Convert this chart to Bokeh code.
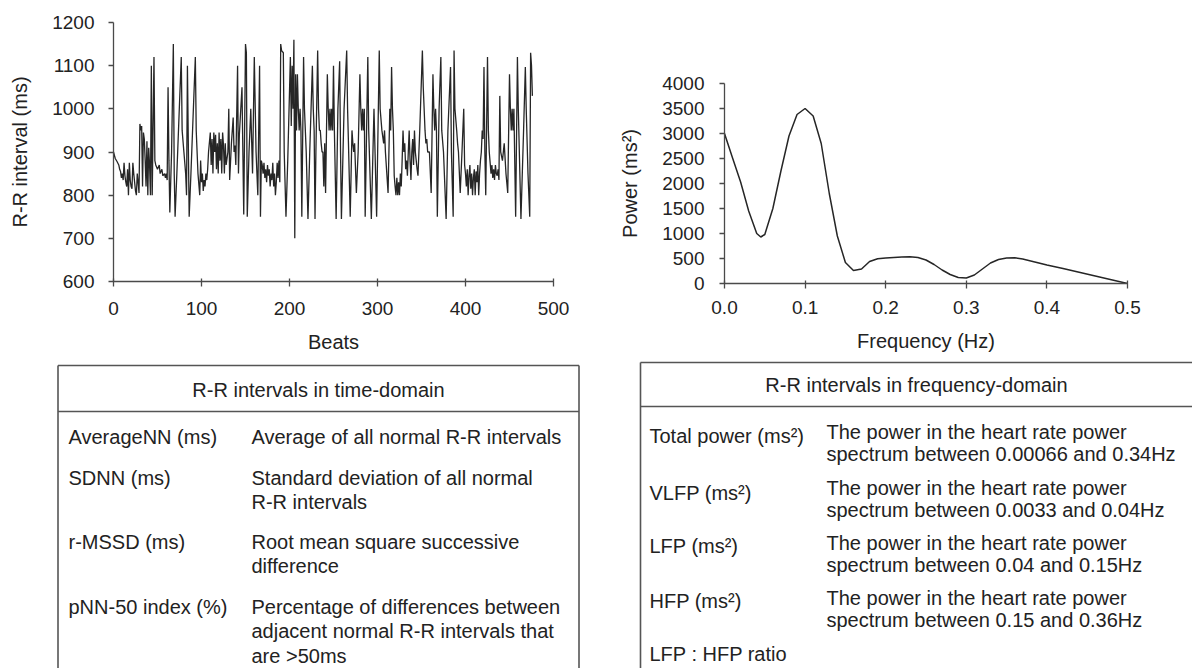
from bokeh.plotting import figure
from bokeh.layouts import row, column
from bokeh.models import Range1d, FixedTicker, NumeralTickFormatter, Spacer
from bokeh.core.properties import value
from bokeh.embed import file_html
from bokeh.resources import INLINE

FONT = "Liberation Sans"
TXT = "#222222"
AXC = "#4a4a4a"

# ---------------- data: R-R interval series (beat index, ms) ----------------
beats_a = [0, 2, 4, 6, 7, 8, 9, 10, 11, 12, 13, 14, 15, 16, 17, 18, 19, 20, 21, 22, 23, 24, 25, 26, 27, 28, 29]
rr_a = [900, 885, 878, 870, 860, 855, 840, 850, 835, 875, 845, 830, 820, 860, 800, 875, 835, 820, 815, 875, 850, 830, 810, 800, 850, 830, 805]
beats_b = [30, 31, 32, 33, 34, 35, 36, 37, 38, 39, 40, 41, 42, 43, 44, 46, 47, 48, 50, 52, 53, 55, 56, 58, 59, 60, 61]
rr_b = [965, 950, 960, 820, 945, 930, 880, 820, 925, 800, 910, 870, 800, 1100, 800, 1120, 880, 870, 860, 870, 850, 860, 845, 850, 840, 850, 835]
beats_c = [62, 63, 64, 66, 68, 69, 70, 72, 77, 78, 80, 82, 83, 84, 86, 88, 93, 94, 96, 98, 99, 100, 101, 102, 103, 104, 105, 106, 107]
rr_c = [1050, 880, 760, 900, 1150, 850, 750, 850, 1120, 950, 900, 850, 800, 1100, 750, 850, 1120, 950, 850, 800, 880, 830, 850, 810, 835, 820, 850, 835, 860]
beats_d = [108, 110, 111, 112, 113, 114, 115, 116, 117, 118, 119, 120, 121, 122, 123, 124, 125, 126, 127, 128, 130, 131, 132, 134, 136, 137, 138, 139, 141, 142, 143, 146, 147, 148, 150, 151, 152, 154, 156, 158, 160, 162, 164, 166, 167, 168]
rr_d = [900, 945, 870, 930, 850, 945, 900, 940, 860, 920, 850, 945, 880, 930, 850, 945, 915, 850, 920, 870, 900, 1000, 835, 920, 980, 900, 915, 870, 1100, 850, 940, 1050, 900, 755, 1150, 1130, 750, 900, 1000, 850, 1120, 900, 800, 1100, 750, 880]
beats_e = [169, 170, 171, 172, 173, 174, 175, 176, 177, 178, 179, 180, 181, 182, 183, 184, 185, 186, 187, 188, 189]
rr_e = [870, 850, 875, 840, 860, 830, 870, 845, 860, 820, 850, 835, 875, 820, 850, 800, 830, 875, 840, 880, 830]
beats_f = [190, 191, 193, 194, 196, 198, 201, 202, 203, 204, 205, 206, 207, 208, 209, 210, 211, 212, 213, 214, 216, 217, 218, 219, 221, 223, 226, 227, 228, 229, 230, 232, 233, 234, 235, 236, 237, 238, 239, 240, 241]
rr_f = [1150, 1135, 1130, 900, 750, 880, 1120, 960, 1100, 1000, 1160, 700, 1080, 950, 1080, 1000, 950, 1000, 950, 750, 1120, 1000, 950, 900, 745, 900, 1100, 1000, 950, 745, 900, 1135, 1000, 950, 950, 920, 900, 900, 820, 920, 805]
beats_g = [243, 244, 245, 246, 247, 248, 249, 250, 251, 253, 255, 257, 258, 259, 262, 265, 266, 267, 269, 271, 272, 273, 274, 276, 278, 280, 281, 282, 283, 284, 285, 286, 288, 289, 290, 293, 296, 299, 302, 303, 305, 307, 308, 309, 312]
rr_g = [1080, 1000, 950, 1000, 950, 1000, 950, 1100, 950, 745, 1000, 1110, 900, 745, 1000, 1135, 1000, 920, 750, 950, 920, 900, 920, 805, 900, 1080, 1000, 950, 1000, 950, 1000, 750, 1000, 1120, 950, 745, 1000, 750, 1135, 1000, 950, 920, 950, 900, 805]
beats_h = [314, 315, 316, 317, 318, 319, 320, 321, 322, 323, 324, 325, 326, 327, 328, 329, 330, 331, 332, 333, 334, 335, 336, 337, 338, 339, 340, 341, 342, 343, 344, 345, 346, 348, 351, 352, 354, 355, 356, 357, 359, 361]
rr_h = [1000, 950, 1097, 1000, 950, 845, 820, 800, 840, 800, 830, 800, 850, 820, 880, 950, 900, 920, 860, 880, 845, 900, 950, 880, 835, 900, 930, 870, 950, 900, 880, 860, 845, 950, 1135, 1050, 950, 920, 930, 900, 900, 805]
beats_i = [363, 364, 365, 366, 367, 368, 370, 372, 373, 375, 378, 380, 383, 384, 386, 387, 388, 390, 391, 392, 394, 396, 398, 399]
rr_i = [1080, 1000, 950, 1000, 950, 750, 1000, 1120, 950, 900, 745, 950, 1097, 900, 750, 1135, 1000, 950, 920, 900, 805, 900, 1000, 870]
beats_j = [400, 401, 402, 403, 404, 405, 406, 407, 408, 409, 410, 411, 412, 413, 414, 415, 416, 417, 418, 419, 420]
rr_j = [850, 820, 860, 800, 845, 870, 815, 850, 800, 840, 860, 800, 855, 830, 870, 800, 850, 880, 900, 950, 930]
beats_k = [421, 422, 423, 425, 426, 427, 428, 429, 430, 431, 432, 433, 434, 435, 436, 437, 438, 439, 440, 442, 444, 446, 448, 450, 451, 452, 453, 454, 455, 457, 459, 460, 463, 466, 468, 469, 471, 473, 474, 475, 476]
rr_k = [1097, 900, 800, 1120, 950, 900, 875, 850, 870, 840, 860, 835, 870, 850, 845, 860, 835, 1030, 900, 880, 920, 850, 805, 1080, 1000, 950, 1000, 950, 1000, 750, 1120, 1000, 745, 950, 1097, 1000, 850, 750, 1130, 1100, 1030]

beats = beats_a + beats_b + beats_c + beats_d + beats_e + beats_f + beats_g + beats_h + beats_i + beats_j + beats_k
rr_ms = rr_a + rr_b + rr_c + rr_d + rr_e + rr_f + rr_g + rr_h + rr_i + rr_j + rr_k

rr_x_ticks = [0, 100, 200, 300, 400, 500]
rr_y_ticks = [600, 700, 800, 900, 1000, 1100, 1200]

# ---------------- data: power spectrum ----------------
freq_hz = [0.00, 0.01, 0.02, 0.03, 0.04, 0.045, 0.05, 0.06, 0.07, 0.08, 0.09, 0.10,
           0.11, 0.12, 0.13, 0.14, 0.15, 0.16, 0.17, 0.18, 0.19, 0.20, 0.21, 0.22,
           0.23, 0.24, 0.25, 0.26, 0.27, 0.28, 0.29, 0.30, 0.31, 0.32, 0.33, 0.34,
           0.35, 0.36, 0.37, 0.38, 0.39, 0.40, 0.42, 0.44, 0.46, 0.48, 0.50]
power_ms2 = [3000, 2510, 2030, 1450, 1000, 930, 980, 1500, 2250, 2950, 3380, 3500,
             3350, 2800, 1800, 950, 420, 260, 290, 440, 495, 510, 520, 530,
             535, 520, 470, 380, 270, 180, 120, 110, 170, 290, 410, 480,
             510, 515, 490, 450, 410, 370, 300, 225, 150, 75, 0]
ps_x_ticks = [0.0, 0.1, 0.2, 0.3, 0.4, 0.5]
ps_y_ticks = [0, 500, 1000, 1500, 2000, 2500, 3000, 3500, 4000]

# ---------------- table texts ----------------
time_title = "R-R intervals in time-domain"
time_terms = ["AverageNN (ms)", "SDNN (ms)", "r-MSSD (ms)", "pNN-50 index (%)"]
time_desc = [["Average of all normal R-R intervals"],
             ["Standard deviation of all normal", "R-R intervals"],
             ["Root mean square successive", "difference"],
             ["Percentage of differences between", "adjacent normal R-R intervals that", "are >50ms"]]
freq_title = "R-R intervals in frequency-domain"
freq_terms = ["Total power (ms\u00b2)", "VLFP (ms\u00b2)", "LFP (ms\u00b2)", "HFP (ms\u00b2)", "LFP : HFP ratio"]
freq_desc = [["The power in the heart rate power", "spectrum between 0.00066 and 0.34Hz"],
             ["The power in the heart rate power", "spectrum between 0.0033 and 0.04Hz"],
             ["The power in the heart rate power", "spectrum between 0.04 and 0.15Hz"],
             ["The power in the heart rate power", "spectrum between 0.15 and 0.36Hz"],
             []]


def style(p, xlab, ylab, xticks, yticks, xfmt=None, ylab_standoff=20, ytick_standoff=14,
          xtick_standoff=10, xlab_standoff=10):
    p.xgrid.visible = False
    p.ygrid.visible = False
    p.outline_line_color = None
    p.background_fill_color = "white"
    p.border_fill_color = "white"
    p.xaxis.ticker = FixedTicker(ticks=xticks)
    p.yaxis.ticker = FixedTicker(ticks=yticks)
    if xfmt:
        p.xaxis.formatter = NumeralTickFormatter(format=xfmt)
    p.xaxis.axis_label = xlab
    p.yaxis.axis_label = ylab
    for ax in (p.xaxis[0], p.yaxis[0]):
        ax.axis_line_color = AXC
        ax.axis_line_width = 1.3
        ax.major_tick_line_color = AXC
        ax.major_tick_line_width = 1.3
        ax.minor_tick_line_color = None
        ax.major_label_text_font = FONT
        ax.major_label_text_font_size = "19px"
        ax.major_label_text_color = TXT
        ax.axis_label_text_font = FONT
        ax.axis_label_text_font_size = "20px"
        ax.axis_label_text_font_style = "normal"
        ax.axis_label_text_color = TXT
    p.xaxis.major_tick_in = 3
    p.xaxis.major_tick_out = 5
    p.yaxis.major_tick_in = 0
    p.yaxis.major_tick_out = 5
    p.yaxis.major_label_standoff = ytick_standoff
    p.yaxis.axis_label_standoff = ylab_standoff
    p.xaxis.major_label_standoff = xtick_standoff
    p.xaxis.axis_label_standoff = xlab_standoff


# ---------------- left chart ----------------
p1 = figure(width=600, height=355, x_range=Range1d(0, 500), y_range=Range1d(600, 1200),
            output_backend="svg", toolbar_location=None,
            min_border_left=113, min_border_right=47, min_border_top=22, min_border_bottom=72)
p1.line(beats, rr_ms, line_color="#262626", line_width=1.3)
style(p1, "Beats", "R-R interval (ms)", rr_x_ticks, rr_y_ticks,
      ylab_standoff=18, ytick_standoff=14, xtick_standoff=15, xlab_standoff=13)

# ---------------- right chart ----------------
p2 = figure(width=592, height=294, x_range=Range1d(0, 0.5), y_range=Range1d(0, 4000),
            output_backend="svg", toolbar_location=None,
            min_border_left=124, min_border_right=65, min_border_top=22, min_border_bottom=72)
p2.line(freq_hz, power_ms2, line_color="#262626", line_width=1.5)
style(p2, "Frequency (Hz)", "Power (ms\u00b2)", ps_x_ticks, ps_y_ticks, xfmt="0.0",
      ylab_standoff=18, ytick_standoff=15, xtick_standoff=12, xlab_standoff=13)

# ---------------- tables ----------------
pt = figure(width=1192, height=313, x_range=Range1d(0, 1192), y_range=Range1d(668, 355),
            output_backend="svg", toolbar_location=None, x_axis_type=None, y_axis_type=None,
            min_border=0, min_border_left=0, min_border_right=0, min_border_top=0, min_border_bottom=0)
pt.outline_line_color = None
pt.grid.visible = False
pt.background_fill_color = "white"
pt.border_fill_color = "white"

BC = "#555555"
# table frames (layout)
pt.segment(x0=[57.5, 57.5, 578.5, 57.5], y0=[365, 365, 365, 411],
           x1=[578.5, 57.5, 578.5, 578.5], y1=[365, 668, 668, 411],
           line_color=BC, line_width=1.6)
pt.segment(x0=[640, 640, 640], y0=[362, 362, 406],
           x1=[1195, 640, 1195], y1=[362, 668, 406],
           line_color=BC, line_width=1.6)

FS = "20px"
txt_kw = dict(text_font=value(FONT), text_font_size=FS, text_color=TXT, text_baseline="middle")

pt.text(x=[318, 916], y=[389, 384], text=[time_title, freq_title], text_align="center", **txt_kw)

# left table rows
left_row_y = [436, 477, 541, 606]
left_step = 24.5
pt.text(x=[68] * len(time_terms), y=left_row_y, text=time_terms, text_align="left", **txt_kw)
lx, ly, lt = [], [], []
for y0, lines in zip(left_row_y, time_desc):
    for k, s in enumerate(lines):
        lx.append(251)
        ly.append(y0 + k * left_step)
        lt.append(s)
pt.text(x=lx, y=ly, text=lt, text_align="left", **txt_kw)

# right table rows
right_term_y = [435, 492, 545, 600, 653]
right_desc_y = [431, 487, 542, 597, 653]
right_step = 22.5
pt.text(x=[649] * len(freq_terms), y=right_term_y, text=freq_terms, text_align="left", **txt_kw)
rx, ry, rt = [], [], []
for y0, lines in zip(right_desc_y, freq_desc):
    for k, s in enumerate(lines):
        rx.append(826)
        ry.append(y0 + k * right_step)
        rt.append(s)
pt.text(x=rx, y=ry, text=rt, text_align="left", **txt_kw)

right_col = column(Spacer(width=592, height=61), p2)
layout = column(row(p1, right_col), pt)
open("out.html", "w").write(file_html(layout, INLINE))
